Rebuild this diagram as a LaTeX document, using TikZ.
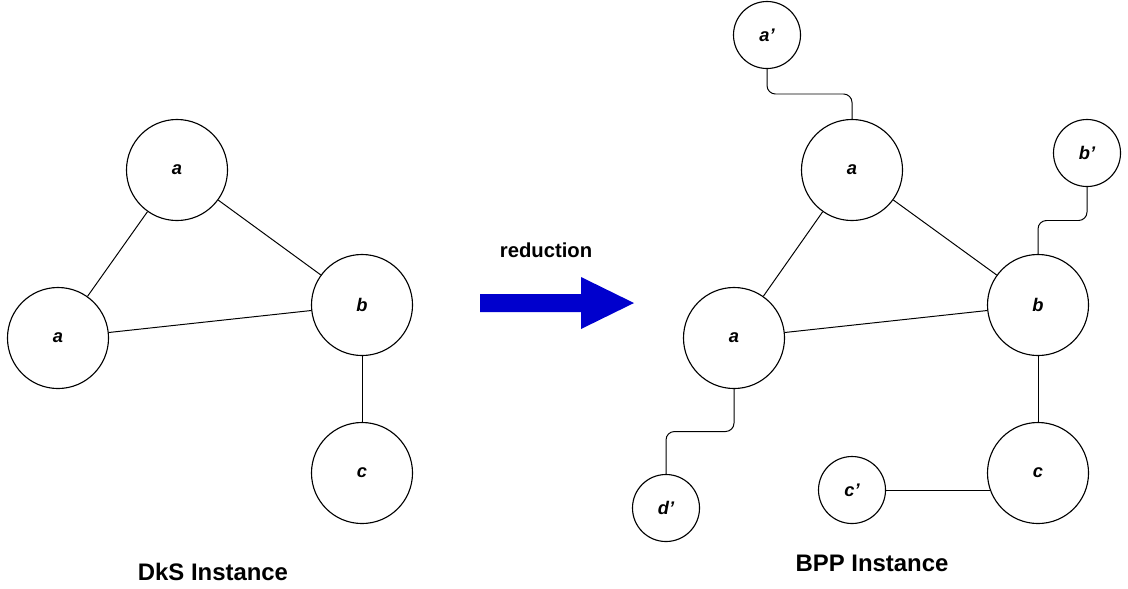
\documentclass[tikz,border=0pt]{standalone}
\usepackage{fontspec}
\setmainfont{Liberation Sans}
\usetikzlibrary{calc}
\begin{document}
\begin{tikzpicture}[x=0.025cm,y=-0.025cm,
    vertex/.style={circle, draw, line width=0.8pt, minimum size=2.525cm, inner sep=0pt,
        font=\fontsize{13}{15}\selectfont\bfseries\itshape},
    copyvertex/.style={vertex, minimum size=1.675cm},
    edge/.style={line width=0.7pt},
    title/.style={font=\fontsize{17}{20}\selectfont\bfseries}]
    % Define colors
    \definecolor{arrowblue}{RGB}{0,0,205}
    \useasboundingbox (0,0) rectangle (1128,588);

    % DkS graph
    \node[vertex] (la) at (177,170) {a};
    \node[vertex] (ld) at (58,338) {a};
    \node[vertex] (lb) at (362,305) {b};
    \node[vertex] (lc) at (362,473) {c};
    \foreach \s/\t in {la/ld, la/lb, ld/lb, lb/lc}
        \draw[edge] (\s) -- (\t);
    \node[title] (dks) at (213,572) {DkS Instance};

    % Reduction arrow
    \node[font=\fontsize{14.4}{17}\selectfont\bfseries] (red) at (546,250) {reduction};
    \fill[arrowblue] (480,294) -- (581,294) -- (581,277) -- (634,303)
        -- (581,329) -- (581,312) -- (480,312) -- cycle;

    % BPP graph
    \node[vertex] (ra) at (852,170) {a};
    \node[vertex] (rd) at (734,338) {a};
    \node[vertex] (rb) at (1038,305) {b};
    \node[vertex] (rc) at (1038,473) {c};
    \foreach \s/\t in {ra/rd, ra/rb, rd/rb, rb/rc}
        \draw[edge] (\s) -- (\t);

    % Copies
    \node[copyvertex] (ap) at (767,35) {a’};
    \node[copyvertex] (bp) at (1087,153) {b’};
    \node[copyvertex] (dp) at (666,508) {d’};
    \node[copyvertex] (cp) at (852,490) {c’};
    \foreach \s/\t in {ap/ra, bp/rb, rd/dp}
        \draw[edge, rounded corners=6pt] (\s.south)
            |- ($(\s.south)!0.5!(\t.north)$) -| (\t.north);
    \draw[edge] (cp.east) -- (cp.east -| rc.200);
    \node[title] (bpp) at (872,563) {BPP Instance};
\end{tikzpicture}
\end{document}
